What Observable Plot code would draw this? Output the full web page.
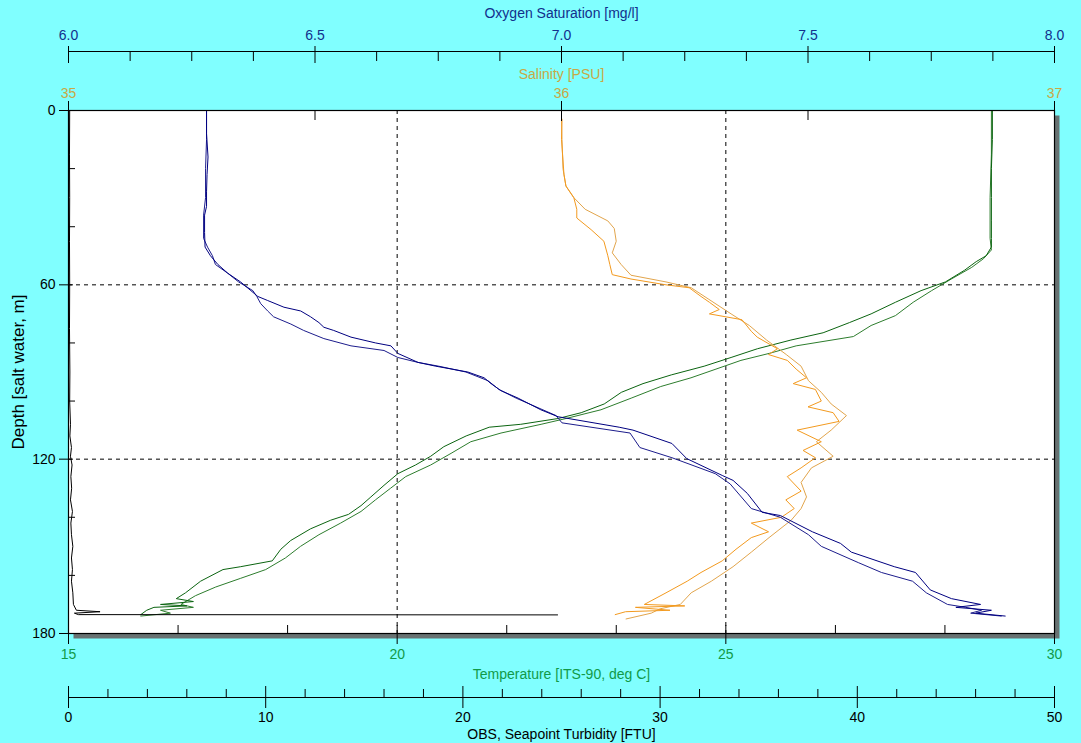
<!DOCTYPE html>
<html><head><meta charset="utf-8">
<script src="https://cdn.jsdelivr.net/npm/d3@7"></script>
<script src="https://cdn.jsdelivr.net/npm/@observablehq/plot@0.6"></script>
<style>
html,body{margin:0;padding:0;background:#80ffff;}
#chart svg{display:block;}
</style></head><body><div id="chart"></div>
<script>
// ---- tick values ----
const depthTicks = [0, 60, 120, 180];
const depthMinorTicks = [20, 40, 80, 100, 140, 160];
const oxygenTicks = [6.0, 6.5, 7.0, 7.5, 8.0];
const oxygenMinorTicks = [6.125, 6.25, 6.375, 6.625, 6.75, 6.875, 7.125, 7.25, 7.375, 7.625, 7.75, 7.875];
const salinityTicks = [35, 36, 37];
const salinityMinorTicks = [35.5, 36.5];
const temperatureTicks = [15, 20, 25, 30];
const temperatureMinorTicks = [16.667, 18.333, 21.667, 23.333, 26.667, 28.333];
const turbidityTicks = [0, 10, 20, 30, 40, 50];
const turbidityMinorTicks = [2, 4, 6, 8, 12, 14, 16, 18, 22, 24, 26, 28, 32, 34, 36, 38, 42, 44, 46, 48];
const gridDepths = [60, 120];
const gridTemperatures = [20, 25];

// ---- profiles: [depth m, value] ----
const oxygenDown = [[0,6.280],[8,6.280],[16,6.283],[22,6.281],[28,6.280],[33,6.280],[36,6.276],[42,6.276],[47,6.277],[50,6.288],[53,6.303],[56,6.323],[59,6.349],[62,6.370],[64,6.384],[65.4,6.404],[67.7,6.437],[69,6.471],[71,6.491],[73,6.508],[74.6,6.518],[75.7,6.538],[78,6.573],[80,6.623],[81,6.654],[83.6,6.668],[86.7,6.709],[88,6.745],[90,6.810],[92,6.843],[94,6.857],[96.4,6.877],[99,6.912],[103,6.958],[105.4,6.993],[109,7.117],[110,7.145],[114.6,7.224],[119.8,7.254],[125.6,7.326],[127.3,7.348],[131.8,7.377],[138.3,7.407],[139.4,7.444],[145,7.509],[149,7.566],[152,7.588],[157,7.675],[159,7.718],[165,7.748],[168,7.791],[170,7.850],[171,7.800],[172,7.872],[173,7.840],[174,7.900]];
const oxygenUp = [[0,6.280],[10,6.280],[20,6.278],[30,6.278],[36,6.274],[44,6.274],[47,6.282],[50,6.292],[53,6.298],[56,6.323],[59,6.345],[62,6.374],[64,6.382],[66.5,6.390],[69,6.404],[71,6.416],[73.5,6.451],[75.7,6.477],[78.5,6.518],[81,6.573],[82.6,6.640],[85,6.668],[86.7,6.709],[88,6.751],[90,6.806],[93,6.851],[96,6.873],[99,6.908],[105,6.989],[107.5,7.001],[111,7.139],[116,7.159],[119.5,7.224],[125,7.312],[128.5,7.342],[137,7.385],[140,7.444],[146,7.501],[150,7.527],[155.6,7.602],[159,7.649],[162,7.712],[166,7.740],[170,7.783],[171,7.820],[172,7.852],[173,7.830],[174,7.892]];

const salinityDown = [[3,36.001],[10,36.000],[17,36.003],[22,36.005],[26,36.009],[30,36.025],[34,36.031],[37,36.031],[41,36.060],[45,36.086],[50,36.094],[53,36.098],[56.5,36.103],[58,36.141],[60,36.212],[61,36.259],[64,36.283],[66,36.300],[68.5,36.320],[70,36.300],[72,36.366],[76,36.385],[78,36.397],[82,36.438],[84,36.420],[86,36.458],[89,36.476],[92,36.497],[94,36.470],[96,36.515],[100,36.527],[102,36.500],[104,36.551],[107,36.563],[110,36.478],[114,36.527],[117,36.490],[119.5,36.515],[123,36.486],[126,36.458],[131,36.486],[134,36.455],[137,36.472],[140,36.446],[142,36.385],[145,36.420],[147,36.385],[151,36.354],[155,36.326],[159,36.283],[162,36.255],[166,36.212],[170,36.168],[170.5,36.250],[171,36.150],[172,36.220],[172.5,36.130],[173.5,36.109]];
const salinityUp = [[3,36.000],[10,36.001],[20,36.003],[26,36.009],[30,36.025],[34,36.048],[38,36.094],[40.6,36.107],[45,36.111],[49,36.103],[53,36.121],[56.7,36.141],[59,36.212],[61,36.263],[65,36.299],[70,36.344],[74,36.381],[79,36.416],[84,36.456],[88,36.486],[93,36.501],[97,36.527],[101,36.547],[105,36.578],[110,36.547],[114,36.517],[119,36.551],[123,36.507],[128,36.486],[133,36.497],[137,36.486],[141,36.466],[147,36.421],[152,36.385],[157,36.348],[162,36.304],[166,36.263],[170,36.241],[171.5,36.200],[173,36.182],[175,36.131]];

const temperatureDown = [[0,29.055],[10,29.055],[20,29.040],[30,29.040],[38,29.040],[44,29.040],[47,29.040],[50,28.960],[52,28.810],[55,28.630],[59,28.340],[62,27.970],[66,27.580],[70,27.210],[73,26.880],[76.5,26.480],[79,25.990],[82,25.480],[85,25.080],[88,24.670],[91,24.170],[94,23.740],[97,23.410],[101,23.150],[104,22.800],[106,22.450],[108,21.880],[109,21.400],[112,21.050],[115.7,20.710],[119,20.510],[122,20.280],[125,20.010],[129,19.800],[133,19.600],[136,19.450],[139,19.260],[141,18.990],[144,18.680],[148,18.380],[151,18.230],[155,18.100],[157,17.620],[158,17.350],[162,17.010],[166,16.780],[168,16.640],[169,16.900],[170,16.400],[170.5,16.800],[171,16.300],[172,16.190],[173.5,16.100]];
const temperatureUp = [[0,29.040],[15,29.040],[30,29.020],[44,29.020],[48,29.040],[51,28.920],[54,28.740],[58,28.430],[62,28.130],[66,27.850],[70.6,27.580],[74,27.210],[77.8,26.940],[81,26.070],[83.6,25.660],[86,25.230],[89,24.850],[92,24.470],[95,24.010],[99,23.560],[103,23.100],[106,22.570],[108,22.190],[111,21.580],[114,21.120],[118,20.820],[122,20.510],[126,20.130],[130,19.900],[134,19.670],[138,19.450],[142,19.140],[146,18.810],[150,18.530],[154,18.300],[158,18.000],[161,17.620],[164,17.240],[167,16.930],[170,16.710],[171,16.900],[172,16.400],[173,16.550],[174,16.100]];

const turbidity = [[0,0.06],[15,0.05],[30,0.06],[45,0.05],[60,0.06],[75,0.05],[90,0.07],[100,0.06],[108,0.10],[112,0.07],[116,0.15],[119,0.10],[122,0.18],[126,0.12],[130,0.16],[134,0.10],[138,0.20],[142,0.12],[146,0.15],[150,0.22],[154,0.15],[158,0.20],[162,0.15],[166,0.22],[170,0.25],[172,0.40],[172.5,1.60],[173,0.30],[173.5,0.50],[173.6,24.80]];

// ---- map each quantity onto the shared (temperature) x scale ----
const fromO2 = o => 15 + (o - 6) * 7.5;
const fromSal = s => 15 + (s - 35) * 7.5;
const fromTurb = t => 15 + t * 0.3;

const oxyColor = "#12308c", salColor = "#c9a845", tempColor = "#119a48";
const blank = () => "";
const prof = (data, f, stroke) => Plot.line(data, {x: d => f(d[1]), y: d => d[0], stroke, strokeWidth: 1});
const title = (t, anchor, dy, fill) => Plot.text([t], {text: d => d, frameAnchor: anchor, dy, fill, lineAnchor: "middle", textAnchor: "middle"});

const chart = Plot.plot({
  width: 1081, height: 743,
  marginTop: 110, marginBottom: 110, marginLeft: 68, marginRight: 27,
  x: {domain: [15, 30]},
  y: {domain: [0, 180], reverse: true},
  style: {background: "#80ffff", fontFamily: "'Liberation Sans', Arial, sans-serif", fontSize: "14px", color: "black", overflow: "visible"},
  marks: [
    Plot.frame({fill: "#687272", dx: 5, dy: 5}),
    Plot.frame({fill: "white"}),
    Plot.gridY(gridDepths, {stroke: "black", strokeOpacity: 1, strokeDasharray: "4,4"}),
    Plot.gridX(gridTemperatures, {stroke: "black", strokeOpacity: 1, strokeDasharray: "4,4"}),
    prof(temperatureUp, d => d, "#2d7d2d"),
    prof(temperatureDown, d => d, "#0b6410"),
    prof(salinityUp, fromSal, "#e2a54c"),
    prof(salinityDown, fromSal, "#f39a1f"),
    prof(oxygenUp, fromO2, "#1c1c8c"),
    prof(oxygenDown, fromO2, "#000080"),
    prof(turbidity, fromTurb, "black"),
    Plot.frame({stroke: "black", strokeWidth: 1.2}),
    // depth axis (left)
    Plot.axisY(depthTicks, {anchor: "left", tickSize: 9, tickPadding: 4, label: null}),
    Plot.axisY(depthTicks, {anchor: "left", tickSize: -5, tickFormat: blank, label: null}),
    Plot.axisY(depthMinorTicks, {anchor: "left", tickSize: -7, tickFormat: blank, label: null}),
    Plot.text(["Depth [salt water, m]"], {text: d => d, frameAnchor: "left", dx: -50, rotate: -90, fontSize: 17, fill: "black", textAnchor: "middle", lineAnchor: "middle"}),
    // salinity axis (frame top)
    Plot.axisX(salinityTicks.map(fromSal), {anchor: "top", tickSize: 10, tickFormat: blank, label: null}),
    Plot.axisX(salinityTicks.map(fromSal), {anchor: "top", tickSize: -10, tickFormat: blank, label: null}),
    Plot.axisX(salinityMinorTicks.map(fromSal), {anchor: "top", tickSize: -9, tickFormat: blank, label: null}),
    Plot.axisX(salinityTicks.map(fromSal), {anchor: "top", tickSize: 0, tickPadding: 13, fill: salColor, tickFormat: t => String(Math.round(35 + (t - 15) / 7.5)), label: null}),
    title("Salinity [PSU]", "top", -36, salColor),
    // oxygen axis (detached, above)
    Plot.ruleY([0], {dy: -59, stroke: "black"}),
    Plot.axisX(oxygenTicks.map(fromO2), {anchor: "top", dy: -59, tickSize: 6, tickFormat: blank, label: null}),
    Plot.axisX(oxygenTicks.map(fromO2), {anchor: "top", dy: -59, tickSize: -11, tickFormat: blank, label: null}),
    Plot.axisX(oxygenMinorTicks.map(fromO2), {anchor: "top", dy: -59, tickSize: -9, tickFormat: blank, label: null}),
    Plot.axisX(oxygenTicks.map(fromO2), {anchor: "top", dy: -59, tickSize: 0, tickPadding: 12, fill: oxyColor, tickFormat: t => (6 + (t - 15) / 7.5).toFixed(1), label: null}),
    title("Oxygen Saturation [mg/l]", "top", -97, oxyColor),
    // temperature axis (frame bottom)
    Plot.axisX(temperatureTicks, {anchor: "bottom", tickSize: 11, tickFormat: blank, label: null}),
    Plot.axisX(temperatureTicks, {anchor: "bottom", tickSize: -8, tickFormat: blank, label: null}),
    Plot.axisX(temperatureMinorTicks, {anchor: "bottom", tickSize: -8, tickFormat: blank, label: null}),
    Plot.axisX(temperatureTicks, {anchor: "bottom", tickSize: 0, tickPadding: 16, fill: tempColor, tickFormat: t => String(t), label: null}),
    title("Temperature [ITS-90, deg C]", "bottom", 41, tempColor),
    // turbidity axis (detached, below)
    Plot.ruleY([180], {dy: 64, stroke: "black"}),
    Plot.axisX(turbidityTicks.map(fromTurb), {anchor: "bottom", dy: 64, tickSize: 11, tickFormat: blank, label: null}),
    Plot.axisX(turbidityTicks.map(fromTurb), {anchor: "bottom", dy: 64, tickSize: -11, tickFormat: blank, label: null}),
    Plot.axisX(turbidityMinorTicks.map(fromTurb), {anchor: "bottom", dy: 64, tickSize: -8, tickFormat: blank, label: null}),
    Plot.axisX(turbidityTicks.map(fromTurb), {anchor: "bottom", dy: 64, tickSize: 0, tickPadding: 15, fill: "black", tickFormat: t => String(Math.round((t - 15) / 0.3)), label: null}),
    title("OBS, Seapoint Turbidity [FTU]", "bottom", 101, "black")
  ]
});
document.getElementById("chart").appendChild(chart);
</script></body></html>
